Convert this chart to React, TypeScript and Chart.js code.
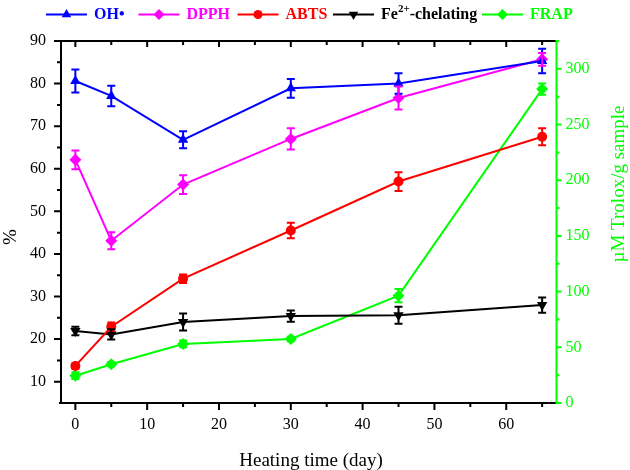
import React, { useEffect, useRef } from 'react';
import { Chart, registerables } from 'chart.js';

Chart.register(...registerables);

// ---------- data ----------
const days = [0, 5, 15, 30, 45, 65];

const ohValues = [80.6, 77.1, 66.8, 78.9, 80.0, 85.3];
const ohErrors = [2.7, 2.4, 2.0, 2.2, 2.4, 2.9];

const dpphValues = [62.1, 43.1, 56.3, 67.0, 76.6, 85.7];
const dpphErrors = [2.2, 2.0, 2.2, 2.5, 2.7, 1.5];

const abtsValues = [13.7, 22.9, 34.2, 45.5, 57.0, 67.5];
const abtsErrors = [0.6, 1.0, 1.0, 1.8, 2.2, 2.0];

const feValues = [21.9, 21.1, 24.0, 25.4, 25.6, 28.0];
const feErrors = [1.0, 1.2, 2.0, 1.3, 2.0, 1.8];

const frapValues = [24.5, 34.8, 53.0, 57.5, 96.4, 281.8];
const frapErrors = [3, 2, 3, 2, 6, 5];

const xTickValues = [0, 10, 20, 30, 40, 50, 60];
const leftTickValues = [10, 20, 30, 40, 50, 60, 70, 80, 90];
const rightTickValues = [0, 50, 100, 150, 200, 250, 300];

const xTitle = 'Heating time (day)';
const leftTitle = '%';
const rightTitle = 'µM Trolox/g sample';

const FONT = '"Liberation Serif", "Times New Roman", serif';
const GREEN = '#00ff00';

type SeriesDef = {
  label: string;
  values: number[];
  errors: number[];
  color: string;
  style: string;
  rotation: number;
  radius: number;
  axis: string;
};

const seriesDefs: SeriesDef[] = [
  { label: 'OH•', values: ohValues, errors: ohErrors, color: '#0000ff', style: 'triangle', rotation: 0, radius: 6, axis: 'y' },
  { label: 'DPPH', values: dpphValues, errors: dpphErrors, color: '#ff00ff', style: 'rectRot', rotation: 0, radius: 6, axis: 'y' },
  { label: 'ABTS', values: abtsValues, errors: abtsErrors, color: '#ff0000', style: 'circle', rotation: 0, radius: 5, axis: 'y' },
  { label: 'Fe2+-chelating', values: feValues, errors: feErrors, color: '#000000', style: 'triangle', rotation: 180, radius: 6, axis: 'y' },
  { label: 'FRAP', values: frapValues, errors: frapErrors, color: GREEN, style: 'rectRot', rotation: 0, radius: 6, axis: 'y1' },
];

function drawMarker(ctx: CanvasRenderingContext2D, style: string, x: number, y: number, r: number, rotDeg: number, color: string) {
  ctx.save();
  ctx.fillStyle = color;
  ctx.beginPath();
  if (style === 'circle') {
    ctx.arc(x, y, r, 0, Math.PI * 2);
  } else if (style === 'triangle') {
    let a = (rotDeg * Math.PI) / 180;
    for (let i = 0; i < 3; i++) {
      const px = x + Math.sin(a) * r;
      const py = y - Math.cos(a) * r;
      if (i === 0) ctx.moveTo(px, py);
      else ctx.lineTo(px, py);
      a += (2 * Math.PI) / 3;
    }
    ctx.closePath();
  } else {
    ctx.moveTo(x, y - r);
    ctx.lineTo(x + r, y);
    ctx.lineTo(x, y + r);
    ctx.lineTo(x - r, y);
    ctx.closePath();
  }
  ctx.fill();
  ctx.restore();
}

const decorPlugin = {
  id: 'decor',
  afterDatasetsDraw(chart: any) {
    const ctx: CanvasRenderingContext2D = chart.ctx;
    const xs = chart.scales.x;
    ctx.save();
    seriesDefs.forEach((s) => {
      const ys = chart.scales[s.axis];
      ctx.strokeStyle = s.color;
      ctx.lineWidth = 2;
      days.forEach((d, j) => {
        const x = xs.getPixelForValue(d);
        const yt = ys.getPixelForValue(s.values[j] + s.errors[j]);
        const yb = ys.getPixelForValue(s.values[j] - s.errors[j]);
        ctx.beginPath();
        ctx.moveTo(x, yt);
        ctx.lineTo(x, yb);
        ctx.moveTo(x - 4, yt);
        ctx.lineTo(x + 4, yt);
        ctx.moveTo(x - 4, yb);
        ctx.lineTo(x + 4, yb);
        ctx.stroke();
      });
    });
    ctx.restore();
  },
  afterDraw(chart: any) {
    const ctx: CanvasRenderingContext2D = chart.ctx;
    const { left, right, top, bottom } = chart.chartArea;
    const xs = chart.scales.x;
    const yl = chart.scales.y;
    const yr = chart.scales.y1;
    ctx.save();
    ctx.lineCap = 'butt';
    // frame
    ctx.strokeStyle = '#000';
    ctx.lineWidth = 2;
    ctx.beginPath();
    ctx.moveTo(left - 1, top);
    ctx.lineTo(right, top);
    ctx.moveTo(left, top);
    ctx.lineTo(left, bottom + 1);
    ctx.moveTo(left - 2, bottom);
    ctx.lineTo(right, bottom);
    ctx.stroke();
    // x ticks
    ctx.beginPath();
    for (let d = 0; d <= 65; d += 5) {
      const x = xs.getPixelForValue(d);
      const major = d % 10 === 0;
      ctx.moveTo(x, bottom);
      ctx.lineTo(x, bottom + (major ? 7 : 4));
      ctx.moveTo(x, top);
      ctx.lineTo(x, top + (major ? 6 : 4));
    }
    // left ticks
    for (let v = 10; v <= 90; v += 5) {
      const y = yl.getPixelForValue(v);
      const major = v % 10 === 0;
      ctx.moveTo(left, y);
      ctx.lineTo(left - (major ? 7 : 4), y);
    }
    ctx.stroke();
    // right axis (green)
    ctx.strokeStyle = GREEN;
    ctx.beginPath();
    ctx.moveTo(right, top - 1);
    ctx.lineTo(right, bottom + 1);
    for (let v = 0; v <= 325; v += 25) {
      const y = yr.getPixelForValue(v);
      const major = v % 50 === 0;
      ctx.moveTo(right, y);
      ctx.lineTo(right + (major ? 5 : 3), y);
    }
    ctx.stroke();

    // titles
    ctx.font = `19px ${FONT}`;
    ctx.textAlign = 'center';
    ctx.textBaseline = 'middle';
    ctx.fillStyle = '#000';
    ctx.fillText(xTitle, 311, 461);
    ctx.save();
    ctx.translate(11, 237);
    ctx.rotate(-Math.PI / 2);
    ctx.fillText(leftTitle, 0, 0);
    ctx.restore();
    ctx.save();
    ctx.fillStyle = GREEN;
    ctx.translate(619, 184);
    ctx.rotate(-Math.PI / 2);
    ctx.fillText(rightTitle, 0, 0);
    ctx.restore();

    // legend
    const legendX = [46, 138.5, 237.5, 333, 482];
    const ly = 14.5;
    seriesDefs.forEach((s, i) => {
      const x0 = legendX[i];
      ctx.strokeStyle = s.color;
      ctx.lineWidth = 2;
      ctx.beginPath();
      ctx.moveTo(x0, ly);
      ctx.lineTo(x0 + 41, ly);
      ctx.stroke();
      drawMarker(ctx, s.style, x0 + 20.5, ly, s.radius - 0.5, s.rotation, s.color);
      ctx.fillStyle = s.color;
      ctx.textAlign = 'left';
      ctx.textBaseline = 'middle';
      let tx = x0 + 48;
      if (s.label === 'Fe2+-chelating') {
        ctx.font = `bold 16px ${FONT}`;
        ctx.fillText('Fe', tx, ly);
        tx += ctx.measureText('Fe').width;
        ctx.font = `bold 11px ${FONT}`;
        ctx.fillText('2+', tx, ly - 5);
        tx += ctx.measureText('2+').width;
        ctx.font = `bold 16px ${FONT}`;
        ctx.fillText('-chelating', tx, ly);
      } else {
        ctx.font = `bold 16px ${FONT}`;
        ctx.fillText(s.label, tx + (s.label === 'FRAP' ? 0 : 0), ly);
      }
    });
    ctx.restore();
  },
};

export default function App() {
  const canvasRef = useRef<HTMLCanvasElement | null>(null);

  useEffect(() => {
    const canvas = canvasRef.current;
    if (!canvas) return;
    const datasets = seriesDefs.map((s) => ({
      label: s.label,
      data: days.map((d, j) => ({ x: d, y: s.values[j] })),
      borderColor: s.color,
      backgroundColor: s.color,
      borderWidth: 2,
      pointStyle: s.style,
      pointRotation: s.rotation,
      pointRadius: s.radius,
      pointBorderWidth: 0,
      pointBackgroundColor: s.color,
      tension: 0,
      yAxisID: s.axis,
    }));

    const tickFont = { family: FONT, size: 16 };

    const chart = new Chart(canvas, {
      type: 'line',
      data: { datasets } as any,
      options: {
        responsive: false,
        animation: false,
        devicePixelRatio: 1,
        layout: { padding: { top: 41, left: 0, right: 0, bottom: 0 } },
        plugins: {
          legend: { display: false },
          tooltip: { enabled: false },
        },
        scales: {
          x: {
            type: 'linear',
            position: 'bottom',
            min: -2,
            max: 67,
            grid: { display: false, drawTicks: false },
            border: { display: false },
            ticks: { font: tickFont, color: '#000', padding: 12, maxRotation: 0, autoSkip: false },
            afterBuildTicks: (s: any) => {
              s.ticks = xTickValues.map((v) => ({ value: v }));
            },
            afterFit: (s: any) => {
              s.height = 67;
            },
          },
          y: {
            type: 'linear',
            position: 'left',
            min: 5,
            max: 90,
            grid: { display: false, drawTicks: false },
            border: { display: false },
            ticks: { font: tickFont, color: '#000', padding: 15, autoSkip: false },
            afterBuildTicks: (s: any) => {
              s.ticks = leftTickValues.map((v) => ({ value: v }));
            },
            afterFit: (s: any) => {
              s.width = 61;
            },
          },
          y1: {
            type: 'linear',
            position: 'right',
            min: 0,
            max: 325,
            grid: { display: false, drawTicks: false },
            border: { display: false },
            ticks: { font: tickFont, color: GREEN, padding: 9, autoSkip: false },
            afterBuildTicks: (s: any) => {
              s.ticks = rightTickValues.map((v) => ({ value: v }));
            },
            afterFit: (s: any) => {
              s.width = 73.5;
            },
          },
        },
      } as any,
      plugins: [decorPlugin as any],
    });
    return () => chart.destroy();
  }, []);

  return (
    <div style={{ position: 'absolute', left: 0, top: 0, width: 630, height: 470, background: '#fff' }}>
      <canvas ref={canvasRef} width={630} height={470} style={{ display: 'block' }} />
    </div>
  );
}
